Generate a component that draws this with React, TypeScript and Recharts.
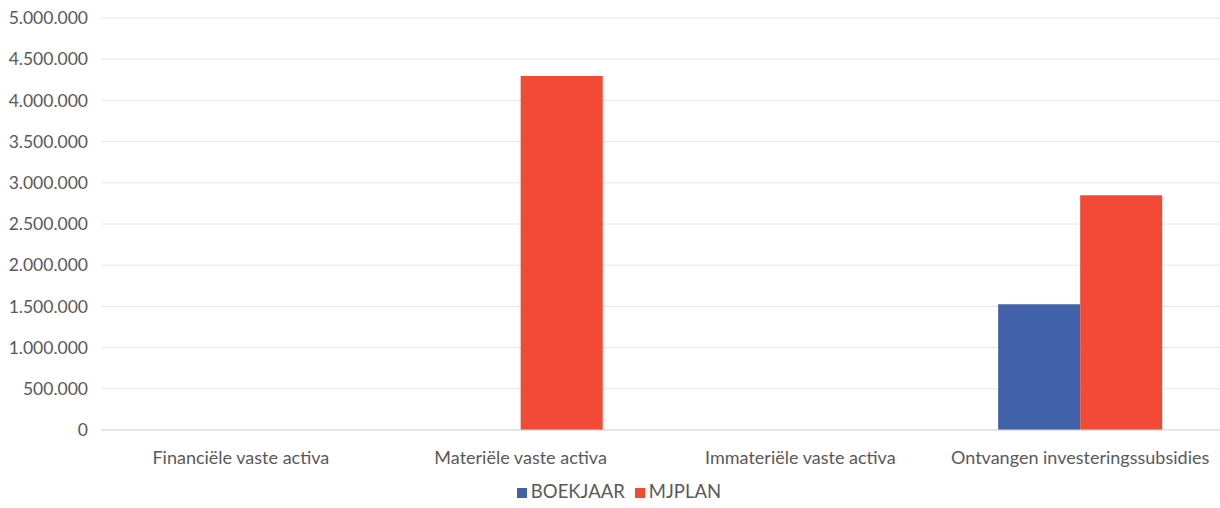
import React from 'react';
import { BarChart, Bar, XAxis, YAxis, CartesianGrid, Legend } from 'recharts';

const categories = [
  'Financiële vaste activa',
  'Materiële vaste activa',
  'Immateriële vaste activa',
  'Ontvangen investeringssubsidies',
];
const boekjaar = [0, 0, 0, 1525000];
const mjplan = [0, 4295000, 0, 2850000];
const yTicks = [0, 500000, 1000000, 1500000, 2000000, 2500000, 3000000, 3500000, 4000000, 4500000, 5000000];

const data = categories.map((name, i) => ({ name, BOEKJAAR: boekjaar[i], MJPLAN: mjplan[i] }));

const fmt = (v: number) => v.toLocaleString('de-DE');

const FONT = 'Lato, "Open Sans", sans-serif';

export default function App() {
  return (
    <div style={{ position: 'absolute', left: 0, top: 0, width: 1220, height: 508, background: '#fff' }}>
      <BarChart
        width={1220}
        height={508}
        data={data}
        margin={{ top: 18, right: 0, bottom: 0, left: 0 }}
        barCategoryGap="20.7%"
        barGap={0}
      >
        <CartesianGrid vertical={false} stroke="#e6e6e6" />
        <XAxis
          dataKey="name"
          height={50}
          tickLine={false}
          tickSize={0}
          tickMargin={21}
          axisLine={{ stroke: '#d9d9d9' }}
          tick={{ fill: '#595959', fontSize: 18, fontFamily: FONT }}
          interval={0}
        />
        <YAxis
          width={101}
          domain={[0, 5000000]}
          ticks={yTicks}
          tickFormatter={fmt}
          tickLine={false}
          tickSize={0}
          tickMargin={13}
          axisLine={false}
          tick={{ fill: '#595959', fontSize: 17.5, fontFamily: FONT }}
          interval={0}
        />
        <Legend
          verticalAlign="bottom"
          height={28}
          iconType="square"
          iconSize={10}
          wrapperStyle={{ fontFamily: FONT, fontSize: 18.5, color: '#595959', paddingLeft: 28, boxSizing: 'border-box' }}
          formatter={(v: string) => <span style={{ color: '#595959' }}>{v}</span>}
        />
        <Bar dataKey="BOEKJAAR" fill="#4162A8" isAnimationActive={false} />
        <Bar dataKey="MJPLAN" fill="#F24A36" isAnimationActive={false} />
      </BarChart>
    </div>
  );
}
